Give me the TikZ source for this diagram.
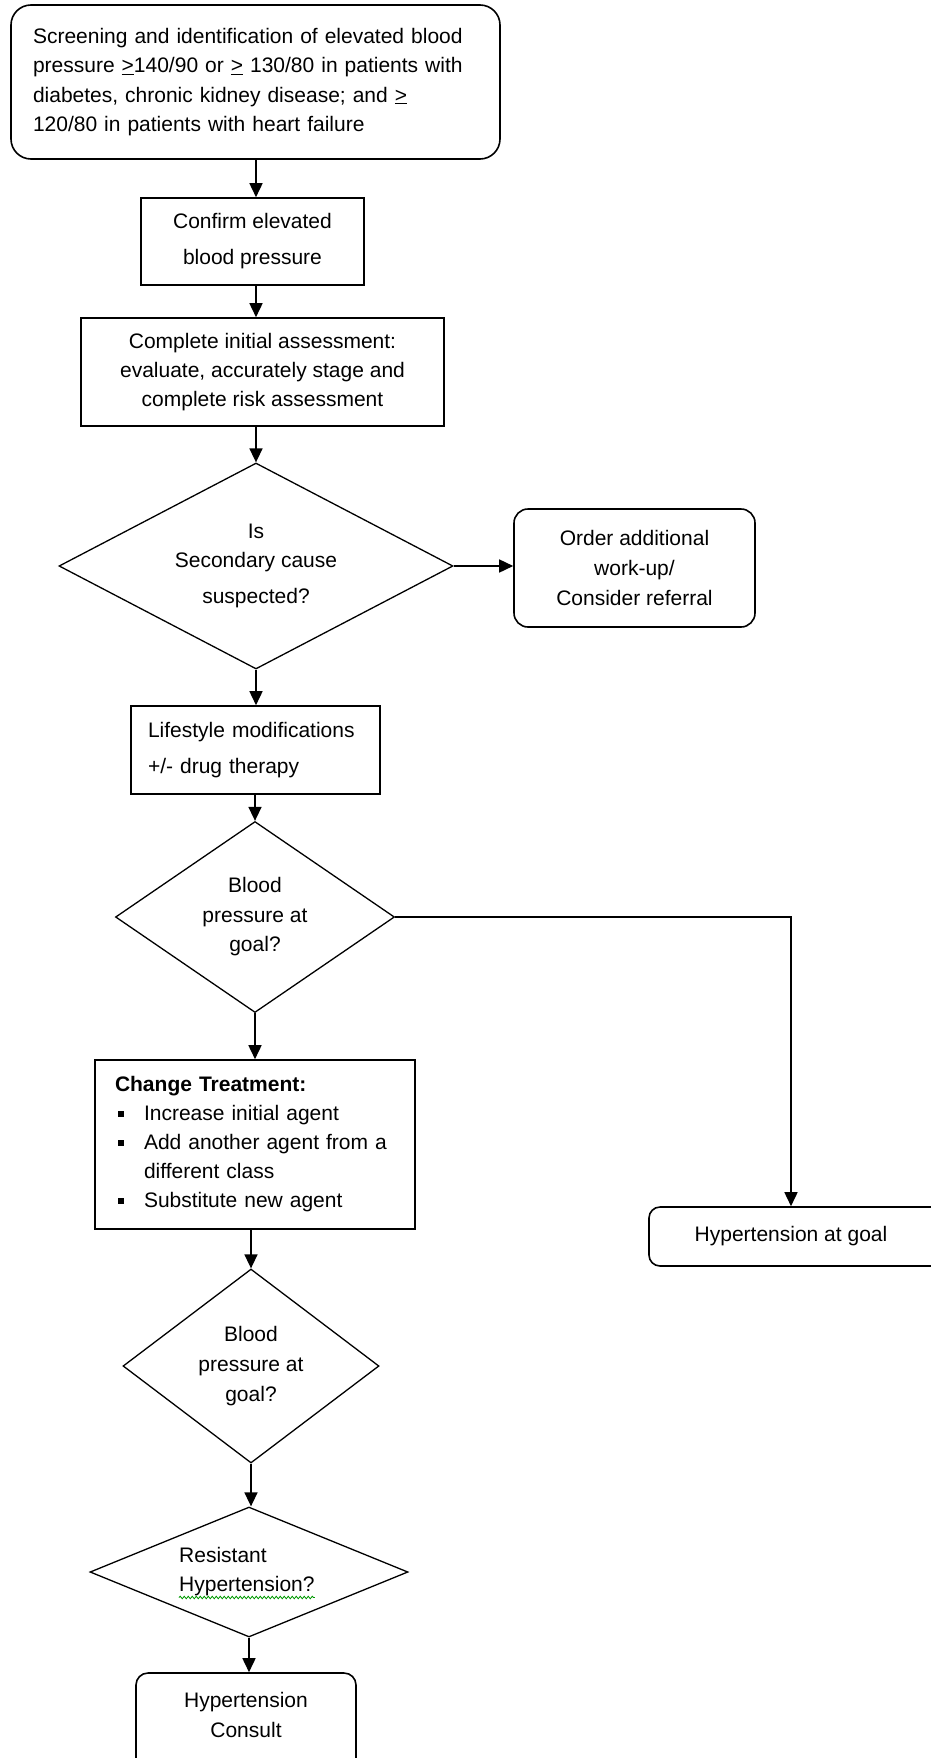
\documentclass[tikz,border=0pt]{standalone}
\usepackage{fontspec}
\setmainfont{Liberation Sans}
\usetikzlibrary{arrows.meta,shapes.geometric,decorations.pathmorphing}
\newcommand\fsz[1]{\fontsize{21}{#1}\selectfont}
\newcommand\bul{\makebox[29pt][l]{\hspace{3pt}\rule[4pt]{6pt}{6pt}}}
\tikzset{
  box/.style={draw, line width=1.6pt, inner sep=0pt, align=center},
  rbox/.style={box, rounded corners=#1},
  dia/.style={draw, diamond, line width=1.3pt, inner sep=0pt},
  txt/.style={inner sep=0pt, align=center},
  arr/.style={line width=1.6pt, -{Triangle[length=14pt,width=13pt]}},
}
\begin{document}
\begin{tikzpicture}[x=1pt,y=-1pt]
\clip (0,0) rectangle (931,1758);
\fill[white] (0,0) rectangle (931,1758);

\node[rbox=20pt, minimum width=489pt, minimum height=154pt, text width=445pt, inner xsep=22pt, align=left, font=\fsz{29.5}] (n1) at (255.5,82)
 {Screening and identification of elevated blood\\
  pressure \underline{>}140/90 or \underline{>} 130/80 in patients with\\
  diabetes, chronic kidney disease; and \underline{>}\\
  120/80 in patients with heart failure};

\node[box, minimum width=223pt, minimum height=87pt, font=\fsz{36}] (n2) at (252.5,241.5)
 {Confirm elevated\\blood pressure};

\node[box, minimum width=363pt, minimum height=108pt, font=\fsz{29}] (n3) at (262.5,372)
 {Complete initial assessment:\\evaluate, accurately stage and\\complete risk assessment};

\node[dia, minimum width=394pt, minimum height=206pt] (d1) at (256,566) {};
\node[txt, font=\fsz{29}] (t1) at (256,566) {Is\\Secondary cause\\[7pt]suspected?};

\node[rbox=14pt, minimum width=241pt, minimum height=118pt, font=\fsz{30}] (order) at (634.5,568)
 {Order additional\\work-up/\\Consider referral};

\node[box, minimum width=249pt, minimum height=88pt, text width=215pt, inner xsep=17pt, align=left, font=\fsz{36}] (life) at (255.5,750)
 {Lifestyle modifications\\+/- drug therapy};

\node[dia, minimum width=279pt, minimum height=191pt] (d2) at (255,917) {};
\node[txt, font=\fsz{29.5}] (t2) at (255,917) {Blood\\pressure at\\goal?};

\node[box, minimum width=320pt, minimum height=169pt, text width=280pt, inner xsep=20pt, align=left, font=\fsz{29}] (box5) at (255,1144.5)
 {\textbf{Change Treatment:}\\
  \bul Increase initial agent\\
  \bul Add another agent from a\\
  \hspace*{29pt}different class\\
  \bul Substitute new agent};

\node[rbox=11pt, minimum width=311pt, minimum height=59pt] (goal) at (804.5,1236.5) {};
\node[txt, font=\fsz{29}] (tgoal) at (791,1236) {Hypertension at goal};

\node[dia, minimum width=256pt, minimum height=194pt] (d3) at (251,1366) {};
\node[txt, font=\fsz{30}] (t3) at (251,1366) {Blood\\pressure at\\goal?};

\node[dia, minimum width=318pt, minimum height=130pt] (d4) at (249,1572) {};
\node[txt, anchor=west, align=left, font=\fsz{29}] (t4) at (179,1572) {Resistant\\Hypertension?};
\draw[green!60!black, line width=0.8pt, decorate, decoration={snake, amplitude=1.3pt, segment length=4pt}]
  ([yshift=-1pt]t4.south west) -- ([yshift=-1pt]t4.south east);

\node[rbox=12pt, minimum width=220pt, minimum height=117pt] (consult) at (246,1731.5) {};
\node[txt, font=\fsz{30}] (tcons) at (246,1715) {Hypertension\\Consult};

\draw[arr] (n1.south -| d1.north) -- (n2.north -| d1.north);
\draw[arr] (n2.south -| d1.north) -- (n3.north -| d1.north);
\draw[arr] (n3.south -| d1.north) -- (d1.north);
\draw[arr] (d1.east) -- (d1.east -| order.west);
\draw[arr] (d1.south) -- (d1.south |- life.north);
\draw[arr] (life.south -| d2.north) -- (d2.north);
\draw[arr] (d2.south) -- (d2.south |- box5.north);
\draw[arr] (d2.east) -| (tgoal.north |- goal.north);
\draw[arr] (box5.south -| d3.north) -- (d3.north);
\draw[arr] (d3.south) -- (d3.south |- d4.north);
\draw[arr] (d4.south) -- (d4.south |- consult.north);
\end{tikzpicture}
\end{document}
